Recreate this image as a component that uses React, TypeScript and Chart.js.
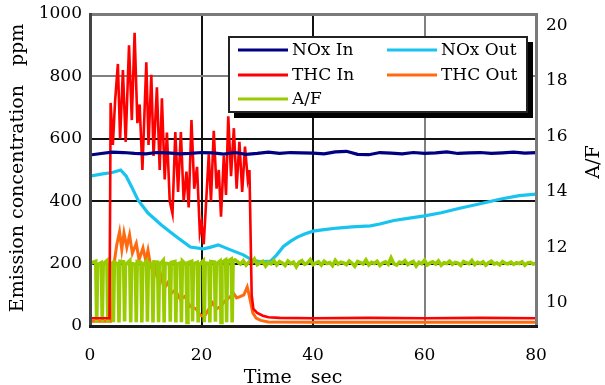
import { useEffect, useRef } from 'react';
import { Chart, registerables } from 'chart.js';

Chart.register(...registerables);

const FONT = '"DejaVu Serif", serif';

// ---------- data (time in sec) ----------
const noxInTimes = [0, 2, 4, 6, 8, 10, 12, 14, 16, 18, 20, 22, 24, 26, 28, 30, 32, 34, 36, 38, 40, 42, 44, 46, 48, 50, 52, 54, 56, 58, 60, 62, 64, 66, 68, 70, 72, 74, 76, 78, 80];
const noxIn = [548, 553, 557, 556, 553, 552, 556, 555, 552, 553, 556, 555, 551, 556, 550, 553, 557, 553, 556, 555, 554, 552, 558, 560, 550, 549, 556, 554, 552, 556, 553, 555, 558, 553, 555, 556, 553, 555, 557, 554, 556];

const noxOutTimes = [0, 2, 4, 5.5, 6.5, 7.5, 8.6, 10.4, 12.8, 14.4, 15.8, 18, 20.3, 21.5, 23, 25.2, 27.5, 29, 30.5, 32.4, 33.5, 34.7, 36, 37.2, 38.5, 40, 42, 44.4, 47, 50.3, 52, 54.5, 57, 60, 63, 66.5, 70, 73.7, 77, 80];
const noxOut = [480, 487, 492, 500, 480, 445, 404, 362, 324, 301, 282, 253, 247, 252, 260, 244, 228, 212, 206, 208, 228, 255, 272, 285, 295, 304, 309, 314, 318, 321, 327, 338, 345, 353, 363, 378, 392, 407, 418, 423];

const thcInTimes = [0, 3.5, 3.7, 4.1, 4.5, 5.0, 5.4, 5.9, 6.4, 7.0, 7.5, 8.0, 8.5, 8.9, 9.4, 10.1, 10.5, 11.0, 11.4, 12.0, 12.5, 12.9, 13.4, 13.8, 14.3, 14.8, 15.3, 15.8, 16.3, 16.8, 17.3, 17.7, 18.2, 18.7, 19.2, 19.7, 20.0, 20.4, 20.9, 21.3, 21.7, 22.2, 22.7, 23.1, 23.5, 24.0, 24.4, 24.8, 25.3, 25.8, 26.3, 26.8, 27.3, 27.8, 28.3, 28.6, 29.0, 29.3, 30.0, 31, 32, 34, 40, 50, 60, 70, 80];
const thcIn = [25, 25, 715, 580, 720, 840, 600, 820, 590, 900, 660, 940, 650, 710, 500, 845, 580, 805, 545, 765, 500, 730, 470, 620, 400, 360, 622, 430, 622, 400, 495, 380, 660, 440, 510, 300, 330, 262, 420, 550, 400, 626, 440, 500, 350, 545, 420, 672, 480, 634, 440, 590, 430, 575, 470, 500, 100, 55, 42, 33, 28, 26, 25, 26, 25, 26, 25];

const thcOutTimes = [0, 3.7, 4.0, 4.4, 4.8, 5.3, 5.7, 6.1, 6.6, 7.1, 7.6, 8.3, 8.8, 9.5, 10.0, 10.4, 10.9, 11.5, 12.0, 12.6, 13.3, 14.0, 14.6, 15.3, 16.2, 17.0, 18.0, 19.0, 19.8, 20.5, 21.0, 22.0, 22.7, 23.4, 24.2, 25.2, 25.7, 26.3, 27.0, 27.6, 28.2, 28.6, 29.2, 29.8, 30.6, 32, 40, 50, 60, 70, 80];
const thcOut = [15, 15, 100, 210, 260, 302, 245, 298, 252, 292, 233, 265, 212, 250, 210, 243, 190, 200, 160, 170, 120, 140, 105, 115, 85, 95, 62, 55, 35, 30, 45, 74, 55, 62, 80, 95, 106, 90, 95, 100, 125, 95, 42, 25, 18, 13, 12, 12, 12, 12, 12];

const afTimes = [0,
  1.03, 1.2, 1.37, 2.03, 2.2, 2.37, 3.03, 3.2, 3.37, 4.03, 4.2, 4.37, 5.03, 5.2, 5.37,
  6.03, 6.2, 6.37, 7.13, 7.3, 7.47, 8.13, 8.3, 8.47, 9.13, 9.3, 9.47, 10.13, 10.3, 10.47,
  11.13, 11.3, 11.47, 12.13, 12.3, 12.47, 13.13, 13.3, 13.47, 14.23, 14.4, 14.57, 15.23, 15.4, 15.57,
  16.23, 16.4, 16.57, 17.23, 17.4, 17.57, 18.23, 18.4, 18.57, 19.23, 19.4, 19.57, 20.33, 20.5, 20.67,
  21.33, 21.5, 21.67, 22.33, 22.5, 22.67, 23.33, 23.5, 23.67, 24.33, 24.5, 24.67, 25.33, 25.5, 25.67,
  26, 26.5, 27, 27.5, 28, 28.5, 29, 29.5, 30, 30.5, 31, 31.5, 32, 32.5, 33, 33.5, 34, 34.5, 35, 35.5,
  36, 36.5, 37, 37.5, 38, 38.5, 39, 39.5, 40, 40.5, 41, 41.5, 42, 42.5, 43, 43.5, 44, 44.5, 45, 45.5,
  46, 46.5, 47, 47.5, 48, 48.5, 49, 49.5, 50, 50.5, 51, 51.5, 52, 52.5, 53, 53.5, 54, 54.5, 55, 55.5,
  56, 56.5, 57, 57.5, 58, 58.5, 59, 59.5, 60, 60.5, 61, 61.5, 62, 62.5, 63, 63.5, 64, 64.5, 65, 65.5,
  66, 66.5, 67, 67.5, 68, 68.5, 69, 69.5, 70, 70.5, 71, 71.5, 72, 72.5, 73, 73.5, 74, 74.5, 75, 75.5,
  76, 76.5, 77, 77.5, 78, 78.5, 79, 79.5, 80];
const af = [11.42,
  11.50, 9.30, 11.38, 11.45, 9.32, 11.40, 11.52, 9.30, 11.36, 11.44, 9.31, 11.47, 11.40, 9.30, 11.50,
  11.48, 9.33, 11.37, 11.52, 9.30, 11.42, 11.39, 9.31, 11.49, 11.46, 9.30, 11.35, 11.50, 9.32, 11.44,
  11.41, 9.30, 11.48, 11.47, 9.31, 11.38, 11.53, 9.30, 11.43, 11.40, 9.32, 11.46, 11.49, 9.30, 11.39,
  11.44, 9.31, 11.51, 11.38, 9.30, 11.45, 11.50, 9.33, 11.41, 11.46, 9.30, 11.37, 11.52, 9.31, 11.44,
  11.42, 9.30, 11.49, 11.47, 9.32, 11.40, 11.51, 9.30, 11.46, 11.55, 9.31, 11.50, 11.58, 9.30, 11.52,
  11.55, 11.48, 11.40, 11.52, 11.36, 11.47, 11.43, 11.58, 11.38, 11.45,
  11.50, 11.33, 11.46, 11.41, 11.53, 11.37, 11.49, 11.44, 11.35, 11.51,
  11.42, 11.47, 11.30, 11.46, 11.52, 11.39, 11.44, 11.56, 11.38, 11.43,
  11.48, 11.36, 11.50, 11.42, 11.45, 11.34, 11.53, 11.40, 11.47, 11.44,
  11.38, 11.51, 11.43, 11.32, 11.49, 11.45, 11.40, 11.55, 11.37, 11.46,
  11.42, 11.50, 11.35, 11.44, 11.48, 11.39, 11.62, 11.41, 11.36, 11.47,
  11.43, 11.52, 11.38, 11.45, 11.49, 11.33, 11.46, 11.41, 11.54, 11.37,
  11.44, 11.48, 11.40, 11.51, 11.36, 11.45, 11.42, 11.50, 11.39, 11.46,
  11.43, 11.35, 11.49, 11.44, 11.41, 11.53, 11.38, 11.46, 11.42, 11.48,
  11.36, 11.45, 11.50, 11.40, 11.44, 11.37, 11.49, 11.43, 11.41, 11.47,
  11.39, 11.45, 11.42, 11.48, 11.36, 11.44, 11.46, 11.40, 11.43];

const xTicks = [0, 20, 40, 60, 80];
const leftTicks = [0, 200, 400, 600, 800, 1000];
const rightTicks = [10, 12, 14, 16, 18, 20];

const labels = { noxIn: 'NOx In', noxOut: 'NOx Out', thcIn: 'THC In', thcOut: 'THC Out', af: 'A/F' };
const colors = { noxIn: '#000080', noxOut: '#19c3f0', thcIn: '#ff0000', thcOut: '#ff6a10', af: '#99cc00' };

const xTitle = 'Time\u3000sec';
const yTitle = 'Emission concentration\u3000ppm';
const y1Title = 'A/F';

function pts(ts: number[], vs: number[]) {
  return ts.map((t, i) => ({ x: t, y: vs[i] }));
}

const overlayPlugin = {
  id: 'overlay',
  afterDraw(chart: any) {
    const ctx = chart.ctx;
    const ca = chart.chartArea;
    const xs = chart.scales.x;
    const ys = chart.scales.y;
    const l = Math.round(ca.left), r = Math.round(ca.right), t = Math.round(ca.top), b = Math.round(ca.bottom);

    ctx.save();
    // legend box
    const bx = l + 139, by = t + 23, bw = 298, bh = 75;
    ctx.fillStyle = '#000';
    ctx.fillRect(bx + 5, by + 5, bw + 1, bh + 1);
    ctx.fillStyle = '#222';
    ctx.fillRect(bx - 1, by - 1, bw + 2, bh + 2);
    ctx.fillStyle = '#fff';
    ctx.fillRect(bx + 1, by + 1, bw - 2, bh - 2);

    const entries = [
      { key: 'noxIn', col: 0, row: 0 },
      { key: 'noxOut', col: 1, row: 0 },
      { key: 'thcIn', col: 0, row: 1 },
      { key: 'thcOut', col: 1, row: 1 },
      { key: 'af', col: 0, row: 2 },
    ];
    ctx.textAlign = 'left';
    ctx.textBaseline = 'middle';
    ctx.font = '17px ' + FONT;
    for (const e of entries) {
      const lx = bx + 9 + e.col * 149;
      const ly = by + 13 + e.row * 24.5;
      ctx.fillStyle = (colors as any)[e.key];
      ctx.fillRect(lx, Math.round(ly) - 1.5, 50, 3);
      ctx.fillStyle = '#000';
      ctx.fillText((labels as any)[e.key], lx + 54, ly + 1);
    }

    // axis titles
    ctx.fillStyle = '#000';
    ctx.font = '19px ' + FONT;
    ctx.textAlign = 'center';
    ctx.fillText(xTitle, ca.left + 203, ca.bottom + 52);
    ctx.save();
    ctx.translate(18, (ca.top + ca.bottom) / 2 - 2);
    ctx.rotate(-Math.PI / 2);
    ctx.fillText(yTitle, 0, 0);
    ctx.restore();
    ctx.save();
    ctx.translate(ca.right + 58, (ca.top + ca.bottom) / 2 - 8);
    ctx.rotate(-Math.PI / 2);
    ctx.fillText(y1Title, 0, 0);
    ctx.restore();

    // frame on top
    ctx.fillStyle = '#7a7a7a';
    ctx.fillRect(l - 1, t - 1, r - l + 3, 3);
    ctx.fillRect(r - 1, t - 1, 3, b - t + 3);
    ctx.fillStyle = '#444';
    ctx.fillRect(l - 1, t - 1, 3, b - t + 3);
    ctx.fillStyle = '#1a1a1a';
    ctx.fillRect(l - 1, b - 1, r - l + 3, 3);

    // grid lines painted behind the data
    ctx.globalCompositeOperation = 'destination-over';
    for (const v of leftTicks) {
      if (v === leftTicks[0] || v === leftTicks[leftTicks.length - 1]) continue;
      const y = Math.round(ys.getPixelForValue(v));
      const heavy = v === 800;
      ctx.fillStyle = heavy ? '#808080' : '#111';
      ctx.fillRect(l, y - 1, r - l, 2);
    }
    for (const v of xTicks) {
      if (v === xTicks[0] || v === xTicks[xTicks.length - 1]) continue;
      const x = Math.round(xs.getPixelForValue(v));
      const heavy = v === 60;
      ctx.fillStyle = heavy ? '#808080' : '#111';
      ctx.fillRect(x - 1, t, 2, b - t);
    }
    ctx.restore();
  },
};

const noPad = (s: any) => {
  s.paddingTop = 0;
  s.paddingBottom = 0;
  s.paddingLeft = 0;
  s.paddingRight = 0;
};

export default function App() {
  const ref = useRef<HTMLCanvasElement | null>(null);

  useEffect(() => {
    if (!ref.current) return;
    const mk = (key: string, ts: number[], vs: number[], axis: string, order: number, w = 3) => ({
      label: (labels as any)[key],
      data: pts(ts, vs),
      borderColor: (colors as any)[key],
      backgroundColor: (colors as any)[key],
      borderWidth: w,
      pointRadius: 0,
      tension: 0,
      fill: false,
      yAxisID: axis,
      order,
    });
    const chart = new Chart(ref.current, {
      type: 'line',
      data: {
        datasets: [
          mk('noxIn', noxInTimes, noxIn, 'y', 0, 3.2),
          mk('thcIn', thcInTimes, thcIn, 'y', 1, 2.6),
          mk('af', afTimes, af, 'y1', 2, 3.6),
          mk('noxOut', noxOutTimes, noxOut, 'y', 3, 3.2),
          mk('thcOut', thcOutTimes, thcOut, 'y', 4, 3),
        ] as any,
      },
      options: {
        animation: false,
        responsive: true,
        maintainAspectRatio: false,
        layout: { padding: { top: 14, left: 0, right: 0, bottom: 0 } },
        plugins: { legend: { display: false }, tooltip: { enabled: false } },
        scales: {
          x: {
            type: 'linear',
            min: 0,
            max: 80,
            afterBuildTicks: (s: any) => { s.ticks = xTicks.map((v) => ({ value: v })); },
            afterFit: (s: any) => { s.height = 59; noPad(s); },
            ticks: { color: '#000', font: { family: FONT, size: 17 }, padding: 19, maxRotation: 0, callback: (v: any) => String(v) },
            grid: { display: false, drawTicks: false },
            border: { display: false },
          },
          y: {
            type: 'linear',
            position: 'left',
            min: 0,
            max: 1000,
            afterBuildTicks: (s: any) => { s.ticks = leftTicks.map((v) => ({ value: v })); },
            afterFit: (s: any) => { s.width = 90; noPad(s); },
            ticks: { color: '#000', font: { family: FONT, size: 17 }, padding: 8, callback: (v: any) => String(v) },
            grid: { display: false, drawTicks: false },
            border: { display: false },
          },
          y1: {
            type: 'linear',
            position: 'right',
            min: 9.17,
            max: 20.4,
            afterBuildTicks: (s: any) => { s.ticks = rightTicks.map((v) => ({ value: v })); },
            afterFit: (s: any) => { s.width = 69; noPad(s); },
            ticks: { color: '#000', font: { family: FONT, size: 17 }, padding: 10, callback: (v: any) => String(v) },
            grid: { display: false, drawTicks: false },
            border: { display: false },
          },
        },
      } as any,
      plugins: [overlayPlugin],
    });
    return () => chart.destroy();
  }, []);

  return (
    <div style={{ position: 'absolute', left: 0, top: 0, width: 605, height: 385, background: '#fff' }}>
      <canvas ref={ref} />
    </div>
  );
}
